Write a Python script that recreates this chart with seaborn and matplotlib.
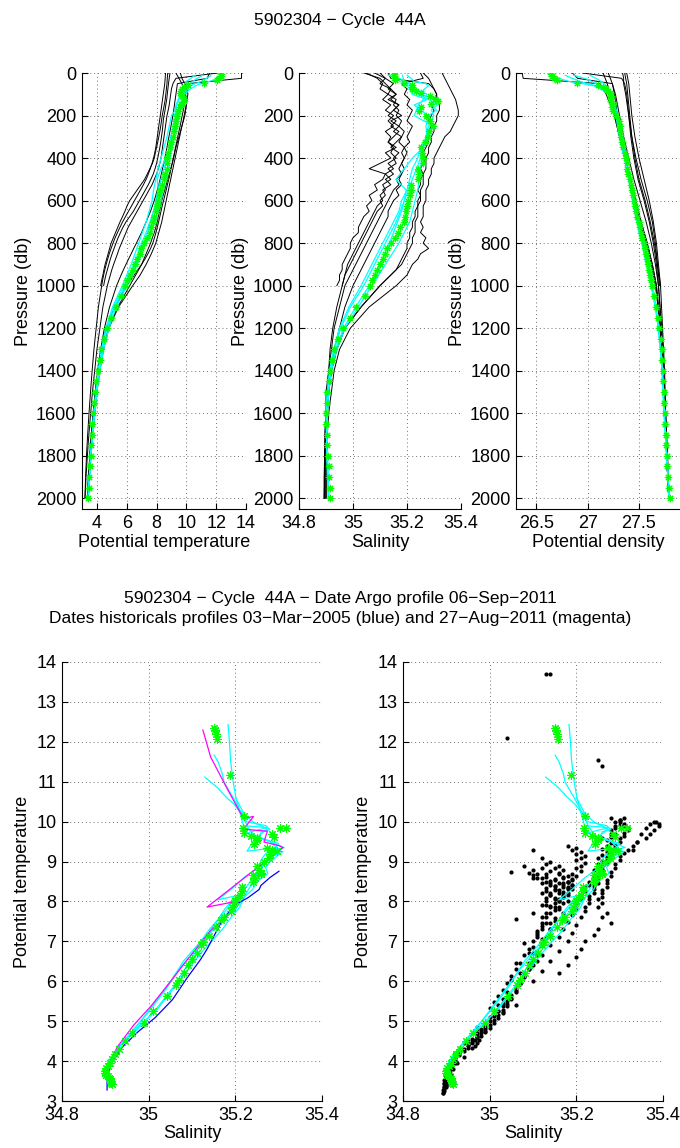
import matplotlib
matplotlib.use("Agg")
import matplotlib.pyplot as plt
import seaborn as sns

# ---------------- data ----------------
# Argo profile (green stars)
argo_pres = [5, 15, 25, 35, 45, 55, 65, 75, 85, 95,
             110, 120, 130, 145, 160, 180, 200, 225, 250, 275,
             300, 325, 350, 375, 400, 425, 450, 475, 500, 525,
             550, 575, 600, 625, 650, 675, 700, 725, 750, 775,
             800, 825, 850, 875, 900, 925, 950, 975, 1000, 1050,
             1100, 1150, 1200, 1250, 1300, 1350, 1400, 1450, 1500, 1550,
             1600, 1650, 1700, 1750, 1800, 1850, 1900, 1950, 2000]
argo_temp = [12.35, 12.3, 12.2, 12.07, 11.17, 10.13, 9.85, 9.72, 9.65, 9.6,
             9.7, 9.83, 9.85, 9.62, 9.54, 9.45, 9.35, 9.3, 9.26, 9.2,
             9.08, 9.0, 8.9, 8.8, 8.72, 8.68, 8.67, 8.6, 8.5, 8.36,
             8.25, 8.15, 8.08, 8.02, 7.95, 7.85, 7.75, 7.6, 7.54, 7.35,
             7.13, 6.98, 6.9, 6.72, 6.55, 6.4, 6.2, 6.04, 5.9, 5.63,
             5.25, 4.95, 4.7, 4.5, 4.3, 4.18, 4.05, 3.95, 3.88, 3.82,
             3.76, 3.7, 3.66, 3.62, 3.58, 3.54, 3.5, 3.46, 3.43]
argo_sal = [35.151, 35.153, 35.155, 35.157, 35.188, 35.219, 35.218, 35.22, 35.235, 35.25,
            35.285, 35.303, 35.316, 35.29, 35.25, 35.243, 35.272, 35.285, 35.295, 35.28,
            35.278, 35.265, 35.25, 35.255, 35.26, 35.259, 35.24, 35.245, 35.24, 35.216,
            35.215, 35.21, 35.205, 35.2, 35.197, 35.193, 35.19, 35.175, 35.166, 35.155,
            35.139, 35.125, 35.12, 35.112, 35.1, 35.09, 35.081, 35.07, 35.062, 35.043,
            35.01, 34.99, 34.962, 34.946, 34.931, 34.922, 34.916, 34.91, 34.905, 34.902,
            34.9, 34.9, 34.902, 34.905, 34.908, 34.91, 34.912, 34.914, 34.916]
argo_dens = [26.64, 26.65, 26.67, 26.70, 26.9, 27.1, 27.15, 27.18, 27.2, 27.22,
             27.23, 27.22, 27.23, 27.25, 27.24, 27.25, 27.28, 27.3, 27.31, 27.31,
             27.32, 27.33, 27.34, 27.36, 27.37, 27.38, 27.38, 27.39, 27.41, 27.42,
             27.43, 27.44, 27.45, 27.46, 27.47, 27.48, 27.5, 27.51, 27.52, 27.53,
             27.55, 27.56, 27.57, 27.58, 27.59, 27.6, 27.61, 27.62, 27.63, 27.65,
             27.67, 27.69, 27.7, 27.71, 27.72, 27.725, 27.73, 27.735, 27.74, 27.745,
             27.75, 27.755, 27.76, 27.765, 27.77, 27.775, 27.78, 27.79, 27.8]

# Historical profiles (black)
hist_pres = [0, 25, 50, 75, 100, 125, 150, 175, 200, 225,
             250, 275, 300, 325, 350, 375, 400, 425, 450, 475,
             500, 525, 550, 575, 600, 625, 650, 675, 700, 725,
             750, 775, 800, 825, 850, 875, 900, 925, 950, 975,
             1000, 1100, 1200, 1300, 1400, 1500, 1600, 1700, 1800, 1900, 2000]
hist_dens_pres = [0, 25, 50, 100, 200, 300, 400, 500, 600, 700, 800, 900, 1000,
                  1200, 1400, 1600, 1800, 2000]

h1_temp = [8.75, 8.72, 8.70, 8.66, 8.62, 8.58, 8.52, 8.45, 8.38, 8.33,
           8.28, 8.22, 8.15, 8.08, 8.0, 7.92, 7.85, 7.72, 7.55, 7.38,
           7.2, 6.95, 6.7, 6.45, 6.2, 6.02, 5.88, 5.72, 5.55, 5.4,
           5.25, 5.1, 4.95, 4.85, 4.75, 4.65, 4.55, 4.47, 4.4, 4.32, 4.25]
h1_sal = [35.05, 35.09, 35.11, 35.10, 35.13, 35.11, 35.14, 35.12, 35.15, 35.13,
          35.15, 35.12, 35.14, 35.13, 35.16, 35.12, 35.14, 35.10, 35.06, 35.12,
          35.11, 35.08, 35.09, 35.06, 35.07, 35.05, 35.06, 35.04, 35.03, 35.02,
          35.02, 35.00, 34.99, 34.99, 34.98, 34.97, 34.96, 34.96, 34.95, 34.95, 34.94]
h1_dens = [27.34, 27.35, 27.35, 27.37, 27.40, 27.43, 27.47, 27.52, 27.58, 27.63, 27.66, 27.68, 27.70]

h2_temp = [8.9, 8.85, 8.8, 8.76, 8.72, 8.68, 8.62, 8.57, 8.5, 8.45,
           8.42, 8.38, 8.33, 8.28, 8.22, 8.15, 8.08, 8.0, 7.9, 7.78,
           7.62, 7.45, 7.25, 7.05, 6.85, 6.65, 6.45, 6.2, 5.95, 5.75,
           5.58, 5.42, 5.28, 5.15, 5.02, 4.9, 4.8, 4.7, 4.6, 4.52, 4.45]
h2_sal = [35.08, 35.12, 35.10, 35.14, 35.16, 35.13, 35.17, 35.15, 35.18, 35.14,
          35.17, 35.15, 35.18, 35.16, 35.14, 35.17, 35.15, 35.16, 35.13, 35.15,
          35.12, 35.14, 35.11, 35.12, 35.10, 35.11, 35.09, 35.08, 35.07, 35.06,
          35.05, 35.04, 35.03, 35.02, 35.01, 35.0, 34.99, 34.98, 34.97, 34.965, 34.96]
h2_dens = [27.36, 27.37, 27.38, 27.39, 27.41, 27.43, 27.46, 27.50, 27.56, 27.61, 27.65, 27.68, 27.71]

h3_temp = [12.1, 9.3, 9.1, 9.0, 8.95, 8.9, 8.85, 8.78, 8.7, 8.65,
           8.6, 8.55, 8.5, 8.45, 8.4, 8.35, 8.3, 8.22, 8.12, 8.0,
           7.85, 7.7, 7.5, 7.3, 7.1, 6.9, 6.7, 6.5, 6.3, 6.1,
           5.95, 5.8, 5.65, 5.5, 5.38, 5.25, 5.12, 5.0, 4.9, 4.8,
           4.7, 4.4, 4.2, 4.0, 3.85, 3.7, 3.58, 3.46, 3.36, 3.27, 3.2]
h3_sal = [35.04, 35.10, 35.12, 35.14, 35.13, 35.16, 35.15, 35.17, 35.16, 35.18,
          35.17, 35.19, 35.18, 35.17, 35.19, 35.18, 35.19, 35.18, 35.17, 35.18,
          35.16, 35.17, 35.15, 35.14, 35.13, 35.12, 35.11, 35.10, 35.09, 35.08,
          35.07, 35.06, 35.05, 35.04, 35.03, 35.02, 35.01, 35.0, 34.99, 34.98,
          34.97, 34.95, 34.93, 34.92, 34.91, 34.90, 34.90, 34.895, 34.895, 34.893, 34.893]
h3_dens = [26.95, 27.33, 27.36, 27.38, 27.40, 27.42, 27.45, 27.49, 27.55, 27.60, 27.64, 27.67, 27.69,
           27.72, 27.74, 27.76, 27.77, 27.79]

h4_temp = [9.3, 9.5, 9.7, 9.85, 9.95, 10.0, 10.0, 9.95, 9.9, 9.8,
           9.7, 9.6, 9.5, 9.4, 9.3, 9.22, 9.15, 9.05, 8.95, 8.85,
           8.75, 8.65, 8.55, 8.45, 8.35, 8.28, 8.2, 8.12, 8.05, 7.95,
           7.85, 7.72, 7.6, 7.45, 7.3, 7.15, 7.0, 6.8, 6.6, 6.4,
           6.2, 5.4, 4.75, 4.4, 4.15, 3.95, 3.8, 3.68, 3.57, 3.48, 3.4]
h4_sal = [35.33, 35.34, 35.35, 35.36, 35.37, 35.38, 35.385, 35.39, 35.39, 35.38,
          35.37, 35.36, 35.34, 35.33, 35.32, 35.31, 35.30, 35.30, 35.29, 35.29,
          35.28, 35.28, 35.27, 35.27, 35.27, 35.26, 35.26, 35.26, 35.25, 35.26,
          35.25, 35.27, 35.26, 35.28, 35.25, 35.24, 35.22, 35.21, 35.20, 35.18,
          35.16, 35.06, 34.99, 34.95, 34.93, 34.92, 34.91, 34.905, 34.90, 34.90, 34.90]
h4_dens = [27.2, 27.22, 27.24, 27.26, 27.29, 27.33, 27.37, 27.42, 27.47, 27.52, 27.58, 27.63, 27.67,
           27.71, 27.73, 27.75, 27.77, 27.79]

h5_temp = [13.7, 13.7, 10.1, 10.0, 9.95, 9.9, 9.85, 9.8, 9.72, 9.65,
           9.58, 9.5, 9.42, 9.35, 9.27, 9.2, 9.12, 9.05, 8.97, 8.9,
           8.82, 8.73, 8.65, 8.56, 8.47, 8.38, 8.3, 8.22, 8.14, 8.05,
           7.96, 7.86, 7.75, 7.6, 7.42, 7.22, 7.0, 6.75, 6.5, 6.25,
           6.0, 5.2, 4.6, 4.3, 4.08, 3.9, 3.75, 3.63, 3.53, 3.44, 3.36]
h5_sal = [35.13, 35.14, 35.28, 35.30, 35.31, 35.31, 35.32, 35.32, 35.31, 35.31,
          35.30, 35.30, 35.29, 35.29, 35.28, 35.28, 35.27, 35.27, 35.27, 35.26,
          35.26, 35.26, 35.25, 35.25, 35.25, 35.24, 35.24, 35.24, 35.23, 35.23,
          35.23, 35.22, 35.22, 35.21, 35.20, 35.19, 35.18, 35.16, 35.14, 35.12,
          35.10, 35.03, 34.97, 34.94, 34.92, 34.91, 34.905, 34.90, 34.90, 34.90, 34.90]
h5_dens = [26.36, 26.37, 27.12, 27.18, 27.26, 27.31, 27.36, 27.41, 27.46, 27.52, 27.58, 27.63, 27.67,
           27.71, 27.73, 27.75, 27.77, 27.79]

h6_temp = [9.6, 9.7, 9.9, 10.05, 10.1, 10.05, 10.0, 9.92, 9.85, 9.78,
           9.7, 9.62, 9.55, 9.47, 9.4, 9.32, 9.25, 9.17, 9.1, 9.02,
           8.95, 8.87, 8.8, 8.72, 8.65, 8.57, 8.5, 8.42, 8.35, 8.25,
           8.15, 8.05, 7.95, 7.8, 7.65, 7.48, 7.3, 7.1, 6.9, 6.65,
           6.4, 5.45, 4.8, 4.45, 4.2, 4.0, 3.85, 3.72, 3.6, 3.5, 3.42]
h6_sal = [35.26, 35.28, 35.29, 35.30, 35.31, 35.30, 35.29, 35.30, 35.29, 35.28,
          35.29, 35.28, 35.27, 35.28, 35.27, 35.26, 35.27, 35.26, 35.25, 35.26,
          35.25, 35.25, 35.24, 35.25, 35.24, 35.24, 35.23, 35.23, 35.22, 35.22,
          35.21, 35.21, 35.20, 35.20, 35.19, 35.18, 35.17, 35.16, 35.14, 35.12,
          35.10, 35.03, 34.97, 34.94, 34.92, 34.91, 34.905, 34.90, 34.90, 34.90, 34.90]
h6_dens = [27.15, 27.17, 27.19, 27.22, 27.26, 27.31, 27.36, 27.41, 27.46, 27.51, 27.57, 27.62, 27.66,
           27.71, 27.73, 27.75, 27.77, 27.79]

h7_temp = [11.55, 11.4, 9.4, 9.35, 9.3, 9.25, 9.2, 9.15, 9.1, 9.03,
           8.97, 8.9, 8.83, 8.76, 8.7, 8.63, 8.56, 8.48, 8.4, 8.32,
           8.24, 8.15, 8.05, 7.95, 7.85, 7.72, 7.6, 7.45, 7.3, 7.15,
           7.0, 6.82, 6.65, 6.47, 6.3, 6.12, 5.95, 5.78, 5.62, 5.47,
           5.32, 4.85, 4.5, 4.25, 4.05, 3.88, 3.74, 3.62, 3.52, 3.43, 3.35]
h7_sal = [35.25, 35.26, 35.18, 35.20, 35.19, 35.21, 35.20, 35.22, 35.21, 35.20,
          35.22, 35.21, 35.20, 35.21, 35.19, 35.20, 35.19, 35.18, 35.19, 35.18,
          35.17, 35.18, 35.16, 35.17, 35.15, 35.14, 35.13, 35.13, 35.12, 35.11,
          35.10, 35.09, 35.08, 35.07, 35.06, 35.05, 35.04, 35.03, 35.02, 35.01,
          35.0, 34.97, 34.95, 34.93, 34.92, 34.91, 34.90, 34.90, 34.895, 34.895, 34.895]
h7_dens = [26.85, 26.9, 27.24, 27.27, 27.31, 27.35, 27.40, 27.45, 27.51, 27.57, 27.62, 27.66, 27.69,
           27.72, 27.74, 27.76, 27.77, 27.79]

h8_temp = [8.6, 8.58, 8.55, 8.5, 8.45, 8.4, 8.35, 8.3, 8.25, 8.2,
           8.15, 8.1, 8.05, 8.0, 7.95, 7.88, 7.8, 7.7, 7.58, 7.45,
           7.3, 7.12, 6.92, 6.72, 6.52, 6.32, 6.12, 5.92, 5.72, 5.55,
           5.38, 5.22, 5.08, 4.95, 4.83, 4.72, 4.62, 4.53, 4.45, 4.38,
           4.32, 4.1, 3.95, 3.8, 3.68, 3.57, 3.47, 3.38, 3.3, 3.24, 3.2]
h8_sal = [35.10, 35.12, 35.15, 35.13, 35.16, 35.14, 35.17, 35.15, 35.13, 35.16,
          35.14, 35.17, 35.15, 35.13, 35.15, 35.14, 35.16, 35.13, 35.15, 35.12,
          35.14, 35.11, 35.12, 35.10, 35.11, 35.09, 35.08, 35.07, 35.06, 35.05,
          35.04, 35.03, 35.02, 35.01, 35.0, 34.99, 34.98, 34.975, 34.97, 34.965,
          34.96, 34.94, 34.925, 34.915, 34.91, 34.905, 34.90, 34.90, 34.895, 34.895, 34.893]
h8_dens = [27.38, 27.39, 27.40, 27.41, 27.43, 27.46, 27.50, 27.55, 27.60, 27.64, 27.67, 27.69, 27.71,
           27.73, 27.75, 27.76, 27.78, 27.79]

# Nearest historical profiles (cyan)
cyan_pres = [10, 20, 30, 40, 50, 60, 80, 100, 125, 150,
             175, 200, 250, 300, 350, 400, 450, 500, 550, 600,
             650, 700, 750, 800, 900, 1000, 1100, 1200, 1300, 1400,
             1500, 1600, 1800, 2000]
c1_temp = [12.44, 12.2, 11.9, 11.53, 11.0, 10.62, 10.17, 9.9, 9.85, 9.72,
           9.6, 9.5, 9.35, 9.2, 9.05, 8.9, 8.75, 8.6, 8.45, 8.3,
           8.1, 7.85, 7.6, 7.3, 6.7, 6.0, 5.3, 4.8, 4.45, 4.2,
           4.0, 3.85, 3.6, 3.42]
c1_sal = [35.183, 35.185, 35.187, 35.189, 35.195, 35.201, 35.212, 35.219, 35.274, 35.227,
          35.25, 35.28, 35.295, 35.27, 35.26, 35.255, 35.25, 35.245, 35.24, 35.23,
          35.22, 35.21, 35.19, 35.17, 35.12, 35.07, 35.02, 34.97, 34.94, 34.92,
          34.91, 34.905, 34.905, 34.91]
c1_dens = [26.66, 26.7, 26.75, 26.82, 26.95, 27.06, 27.15, 27.2, 27.23, 27.24,
           27.26, 27.28, 27.3, 27.32, 27.34, 27.36, 27.38, 27.4, 27.42, 27.44,
           27.47, 27.5, 27.52, 27.54, 27.58, 27.62, 27.66, 27.69, 27.71, 27.725,
           27.735, 27.745, 27.77, 27.795]
c2_temp = [11.67, 11.5, 11.2, 10.99, 10.6, 10.26, 10.0, 9.81, 9.7, 9.54,
           9.4, 9.26, 9.35, 9.1, 8.9, 8.6, 8.3, 8.04, 8.13, 8.0,
           7.8, 7.55, 7.3, 7.0, 6.5, 5.8, 5.1, 4.65, 4.35, 4.12,
           3.95, 3.8, 3.58, 3.4]
c2_sal = [35.151, 35.16, 35.17, 35.174, 35.195, 35.212, 35.24, 35.274, 35.26, 35.243,
          35.235, 35.227, 35.297, 35.28, 35.26, 35.22, 35.19, 35.159, 35.197, 35.19,
          35.175, 35.16, 35.14, 35.12, 35.08, 35.04, 34.99, 34.955, 34.93, 34.915,
          34.905, 34.90, 34.905, 34.91]
c2_dens = [26.78, 26.82, 26.88, 26.92, 27.0, 27.08, 27.15, 27.2, 27.22, 27.24,
           27.26, 27.28, 27.29, 27.31, 27.33, 27.36, 27.39, 27.41, 27.43, 27.44,
           27.46, 27.48, 27.51, 27.53, 27.58, 27.63, 27.67, 27.69, 27.715, 27.73,
           27.74, 27.75, 27.77, 27.795]
c3_temp = [11.12, 10.85, 10.6, 10.44, 10.25, 10.08, 9.85, 9.67, 9.5, 9.35,
           9.3, 9.2, 9.1, 8.95, 8.85, 8.7, 8.5, 8.3, 8.1, 7.95,
           7.8, 7.6, 7.4, 7.15, 6.6, 5.9, 5.2, 4.7, 4.4, 4.15,
           3.97, 3.82, 3.6, 3.43]
c3_sal = [35.129, 35.159, 35.18, 35.197, 35.21, 35.219, 35.23, 35.243, 35.28, 35.313,
          35.29, 35.3, 35.28, 35.27, 35.26, 35.25, 35.235, 35.22, 35.205, 35.19,
          35.18, 35.165, 35.15, 35.135, 35.1, 35.06, 35.01, 34.965, 34.935, 34.918,
          34.908, 34.903, 34.905, 34.91]
c3_dens = [26.86, 26.93, 27.0, 27.04, 27.08, 27.12, 27.16, 27.2, 27.23, 27.25,
           27.26, 27.28, 27.3, 27.32, 27.34, 27.36, 27.38, 27.4, 27.42, 27.44,
           27.46, 27.48, 27.5, 27.53, 27.57, 27.62, 27.66, 27.69, 27.71, 27.725,
           27.735, 27.745, 27.77, 27.795]
c4_temp = [10.6, 10.4, 10.2, 10.0, 9.9, 9.8, 9.75, 9.6, 9.45, 9.3,
           9.25, 9.0, 8.85, 8.7, 8.5, 8.3, 8.1, 7.95, 7.8, 7.7,
           7.5, 7.3, 7.05, 6.8, 6.3, 5.7, 5.05, 4.6, 4.3, 4.08,
           3.92, 3.78, 3.57, 3.4]
c4_sal = [35.2, 35.21, 35.22, 35.225, 35.27, 35.28, 35.26, 35.255, 35.3, 35.29,
          35.31, 35.28, 35.27, 35.275, 35.25, 35.24, 35.22, 35.21, 35.2, 35.18,
          35.17, 35.15, 35.13, 35.11, 35.07, 35.03, 34.985, 34.95, 34.928, 34.913,
          34.905, 34.9, 34.903, 34.908]
c4_dens = [27.02, 27.06, 27.1, 27.13, 27.16, 27.18, 27.2, 27.22, 27.24, 27.26,
           27.28, 27.29, 27.31, 27.33, 27.35, 27.37, 27.39, 27.41, 27.43, 27.45,
           27.47, 27.49, 27.51, 27.54, 27.58, 27.62, 27.66, 27.69, 27.71, 27.725,
           27.735, 27.745, 27.77, 27.795]

# Oldest (blue) and newest (magenta) historical profiles, theta-S only
blue_sal = [35.301, 35.28, 35.259, 35.255, 35.23, 35.197, 35.166, 35.135, 35.12, 35.089,
            35.055, 35.015, 34.975, 34.94, 34.912, 34.904, 34.904]
blue_theta = [8.76, 8.6, 8.4, 8.3, 8.1, 7.9, 7.45, 6.81, 6.55, 6.09,
              5.54, 5.09, 4.73, 4.36, 3.91, 3.55, 3.27]
mag_sal = [35.125, 35.143, 35.182, 35.205, 35.219, 35.242, 35.219, 35.274, 35.266, 35.3,
           35.31, 35.135, 35.197, 35.19, 35.143, 35.089, 35.051, 35.004, 34.966, 34.928,
           34.908, 34.908]
mag_theta = [12.3, 11.62, 10.81, 10.35, 10.08, 10.13, 9.81, 9.76, 9.49, 9.4,
             9.35, 7.86, 7.99, 7.72, 7.27, 6.54, 6.0, 5.36, 4.91, 4.36,
             3.91, 3.55]

title_top = "5902304 \u2212 Cycle  44A"
title_bot1 = "5902304 \u2212 Cycle  44A \u2212 Date Argo profile 06\u2212Sep\u22122011"
title_bot2 = ("Dates historicals profiles 03\u2212Mar\u22122005 (blue) and "
              "27\u2212Aug\u22122011 (magenta)")

pres_ticks = [0, 200, 400, 600, 800, 1000, 1200, 1400, 1600, 1800, 2000]
temp_ticks = [4, 6, 8, 10, 12, 14]
sal_ticks = [34.8, 35.0, 35.2, 35.4]
sal_labels = ["34.8", "35", "35.2", "35.4"]
dens_ticks = [26.5, 27.0, 27.5]
dens_labels = ["26.5", "27", "27.5"]
theta_ticks = [3, 4, 5, 6, 7, 8, 9, 10, 11, 12, 13, 14]

# ---------------- style ----------------
sns.set_style("white")
plt.rcParams['font.family'] = ['Liberation Sans', 'DejaVu Sans']
plt.rcParams['text.color'] = 'black'
plt.rcParams['axes.labelcolor'] = 'black'
FS = 13
BLACK_C = "#000000"
CYAN_C = "#00ffff"
GREEN_C = "#00ff00"
STAR = (8, 2, 0)
GRID = dict(color="#707070", linestyle=(0, (1, 3)), linewidth=0.7)

W, H = 680, 1148
fig = plt.figure(figsize=(W / 100, H / 100), dpi=100)


def add_ax(x0, y_top, w, h):
    return fig.add_axes([x0 / W, 1 - (y_top + h) / H, w / W, h / H])


def style(ax, xlim, xticks, xlabels, ylim, yticks, ylabels):
    ax.set_xlim(*xlim)
    ax.set_ylim(*ylim)
    ax.set_xticks(xticks)
    ax.set_xticklabels(xlabels)
    ax.set_yticks(yticks)
    ax.set_yticklabels(ylabels)
    ax.grid(True, **GRID)
    ax.set_axisbelow(True)
    for s in ["top", "right"]:
        ax.spines[s].set_visible(False)
    for s in ["left", "bottom"]:
        ax.spines[s].set_color("k")
        ax.spines[s].set_linewidth(0.8)
    ax.tick_params(direction="in", length=4, width=0.8, labelsize=FS,
                   colors="k", pad=4, left=True, bottom=True)


def line(ax, x, y, color, lw):
    sns.lineplot(x=x, y=y, sort=False, estimator=None, color=color,
                 linewidth=lw, ax=ax, legend=False)


def stars(ax, x, y, s):
    sns.scatterplot(x=x, y=y, marker=STAR, s=s, color=GREEN_C,
                    linewidth=0.8, ax=ax, legend=False, zorder=5)


hist_T = [h1_temp, h2_temp, h3_temp, h4_temp, h5_temp, h6_temp, h7_temp, h8_temp]
hist_S = [h1_sal, h2_sal, h3_sal, h4_sal, h5_sal, h6_sal, h7_sal, h8_sal]
hist_D = [h1_dens, h2_dens, h3_dens, h4_dens, h5_dens, h6_dens, h7_dens, h8_dens]
cyan_T = [c1_temp, c2_temp, c3_temp, c4_temp]
cyan_S = [c1_sal, c2_sal, c3_sal, c4_sal]
cyan_D = [c1_dens, c2_dens, c3_dens, c4_dens]

# ---------------- top panels ----------------
ax1 = add_ax(82, 73, 164, 436)
ax2 = add_ax(299, 73, 162, 436)
ax3 = add_ax(516, 73, 164, 436)

for ax, hv, cv, av in [(ax1, hist_T, cyan_T, argo_temp),
                       (ax2, hist_S, cyan_S, argo_sal)]:
    for v in hv:
        line(ax, v, hist_pres[:len(v)], BLACK_C, 0.7)
    for v in cv:
        line(ax, v, cyan_pres, CYAN_C, 0.9)
    stars(ax, av, argo_pres, 22)

for v in hist_D:
    line(ax3, v, hist_dens_pres[:len(v)], BLACK_C, 0.7)
for v in cyan_D:
    line(ax3, v, cyan_pres, CYAN_C, 0.9)
stars(ax3, argo_dens, argo_pres, 22)

style(ax1, (3, 14), temp_ticks, [str(t) for t in temp_ticks],
      (2050, 0), pres_ticks, [str(p) for p in pres_ticks])
style(ax2, (34.8, 35.4), sal_ticks, sal_labels,
      (2050, 0), pres_ticks, [str(p) for p in pres_ticks])
style(ax3, (26.3, 27.9), dens_ticks, dens_labels,
      (2050, 0), pres_ticks, [str(p) for p in pres_ticks])
for ax, lab in [(ax1, "Potential temperature"), (ax2, "Salinity"),
                (ax3, "Potential density")]:
    ax.set_xlabel(lab, fontsize=FS, labelpad=2)
    ax.set_ylabel("Pressure (db)", fontsize=FS, labelpad=3)

# ---------------- bottom panels ----------------
ax4 = add_ax(62, 662, 260, 439)
ax5 = add_ax(403, 662, 260, 439)

for tv, sv in zip(cyan_T, cyan_S):
    line(ax4, sv, tv, CYAN_C, 0.9)
line(ax4, mag_sal, mag_theta, "#ff00ff", 0.9)
line(ax4, blue_sal, blue_theta, "#0000ff", 0.9)
stars(ax4, argo_sal, argo_temp, 32)

for tv, sv in zip(hist_T, hist_S):
    sns.scatterplot(x=sv, y=tv, marker="o", s=9, color="k", linewidth=0,
                    ax=ax5, legend=False)
for tv, sv in zip(cyan_T, cyan_S):
    line(ax5, sv, tv, CYAN_C, 0.9)
stars(ax5, argo_sal, argo_temp, 32)

for ax in (ax4, ax5):
    style(ax, (34.8, 35.4), sal_ticks, sal_labels,
          (3, 14), theta_ticks, [str(t) for t in theta_ticks])
    ax.set_xlabel("Salinity", fontsize=FS, labelpad=1)
    ax.set_ylabel("Potential temperature", fontsize=FS, labelpad=4)

# ---------------- titles ----------------
fig.text(0.5, 1 - 20 / H, title_top, ha="center", va="center", fontsize=12.5)
fig.text(0.5, 1 - 598 / H, title_bot1, ha="center", va="center", fontsize=12.5)
fig.text(0.5, 1 - 619 / H, title_bot2, ha="center", va="center", fontsize=12.5)

fig.savefig("out.png", dpi=100)
